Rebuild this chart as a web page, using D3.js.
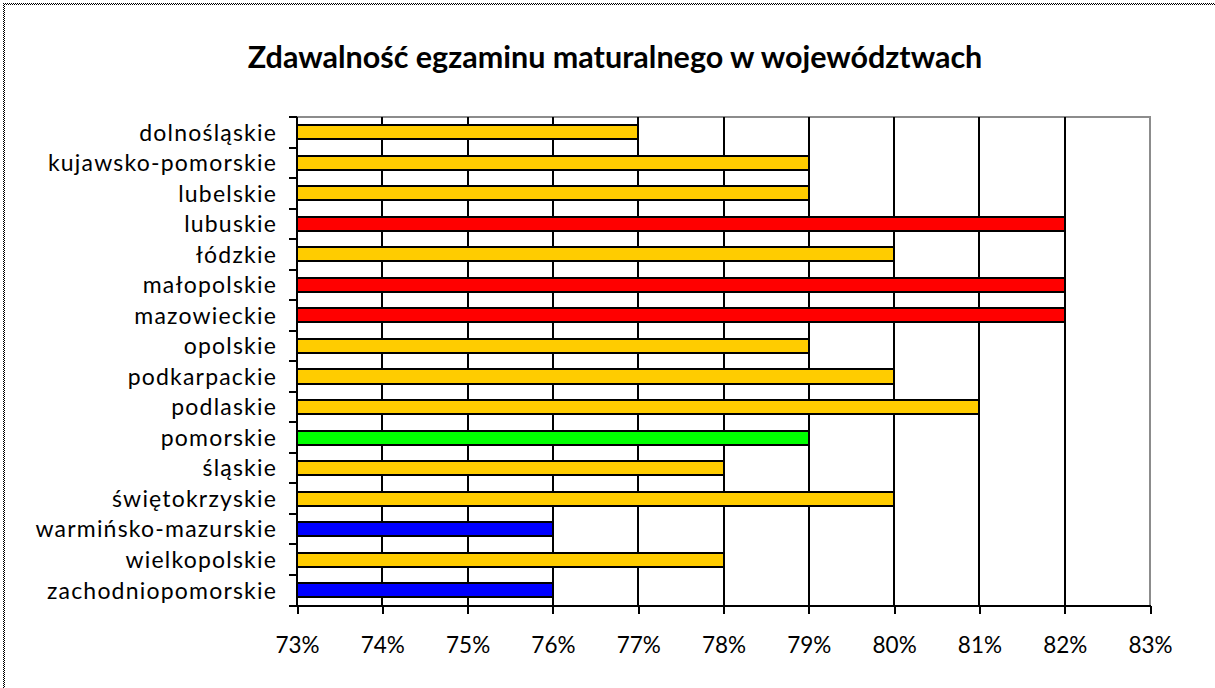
<!DOCTYPE html>
<html>
<head>
<meta charset="utf-8">
<script src="https://cdn.jsdelivr.net/npm/d3@7"></script>
<style>
  body { margin: 0; background: #fff; }
  svg { display: block; font-family: Lato, "Open Sans", sans-serif; }
</style>
</head>
<body>
<div id="chart"></div>
<script>
// data
var regions = ["dolnośląskie", "kujawsko-pomorskie", "lubelskie", "lubuskie", "łódzkie",
  "małopolskie", "mazowieckie", "opolskie", "podkarpackie", "podlaskie", "pomorskie",
  "śląskie", "świętokrzyskie", "warmińsko-mazurskie", "wielkopolskie", "zachodniopomorskie"];
var passRates = [0.77, 0.79, 0.79, 0.82, 0.80, 0.82, 0.82, 0.79, 0.80, 0.81, 0.79,
  0.78, 0.80, 0.76, 0.78, 0.76];
var barGroups = ["mid", "mid", "mid", "high", "mid", "high", "high", "mid", "mid", "mid", "best",
  "mid", "mid", "low", "mid", "low"];
var xTicks = [0.73, 0.74, 0.75, 0.76, 0.77, 0.78, 0.79, 0.80, 0.81, 0.82, 0.83];

var colorOf = { mid: "#ffcc00", high: "#ff0000", best: "#00ff00", low: "#0000ff" };

var svgWidth = 1215, svgHeight = 688;
var margin = { top: 117, right: 65, bottom: 82.5, left: 297 };
var width = svgWidth - margin.left - margin.right;
var height = svgHeight - margin.top - margin.bottom;

var svg = d3.select("#chart").append("svg")
  .attr("width", svgWidth)
  .attr("height", svgHeight)
  .attr("shape-rendering", "crispEdges");

// checkered frame (only top and left edges are visible)
var defs = svg.append("defs");
var pat = defs.append("pattern")
  .attr("id", "checker")
  .attr("patternUnits", "userSpaceOnUse")
  .attr("width", 2).attr("height", 2);
pat.append("rect").attr("width", 2).attr("height", 2).attr("fill", "#fff");
pat.append("rect").attr("width", 1).attr("height", 1).attr("fill", "#000");
pat.append("rect").attr("x", 1).attr("y", 1).attr("width", 1).attr("height", 1).attr("fill", "#000");

svg.append("rect").attr("x", 3).attr("y", 3).attr("width", svgWidth - 3).attr("height", 2)
  .attr("fill", "url(#checker)");
svg.append("rect").attr("x", 3).attr("y", 3).attr("width", 2).attr("height", svgHeight - 3)
  .attr("fill", "url(#checker)");

// title
svg.append("text")
  .attr("x", 615)
  .attr("y", 68)
  .attr("text-anchor", "middle")
  .attr("font-size", "30.5px")
  .attr("font-weight", "bold")
  .attr("fill", "#000")
  .attr("shape-rendering", "auto")
  .text("Zdawalność egzaminu maturalnego w województwach");

var chartGroup = svg.append("g")
  .attr("transform", `translate(${margin.left}, ${margin.top})`);

var xScale = d3.scaleLinear()
  .domain([0.73, 0.83])
  .range([0, width]);

var yScale = d3.scaleBand()
  .domain(regions)
  .range([0, height])
  .paddingInner(0.54)
  .paddingOuter(0.27);

// plot area frame (top/right gray)
chartGroup.append("path")
  .attr("d", `M0,0H${width}V${height}`)
  .attr("fill", "none")
  .attr("stroke", "#8c8c8c")
  .attr("stroke-width", 2);

// vertical gridlines
chartGroup.selectAll(".grid")
  .data(xTicks.slice(1, -1))
  .enter()
  .append("line")
  .attr("class", "grid")
  .attr("x1", d => xScale(d))
  .attr("x2", d => xScale(d))
  .attr("y1", 0)
  .attr("y2", height)
  .attr("stroke", "#000")
  .attr("stroke-width", 2);

// bars
chartGroup.selectAll(".bar")
  .data(regions)
  .enter()
  .append("rect")
  .attr("class", "bar")
  .attr("x", xScale(0.73))
  .attr("y", d => yScale(d))
  .attr("width", (d, i) => xScale(passRates[i]) - xScale(0.73))
  .attr("height", yScale.bandwidth())
  .attr("fill", (d, i) => colorOf[barGroups[i]])
  .attr("stroke", "#000")
  .attr("stroke-width", 2);

// x axis
var bottomAxis = d3.axisBottom(xScale)
  .tickValues(xTicks)
  .tickFormat(d3.format(".0%"))
  .tickSize(8)
  .tickSizeOuter(0);

var xAxis = chartGroup.append("g")
  .attr("transform", `translate(0, ${height})`)
  .call(bottomAxis);
xAxis.select(".domain").attr("stroke-width", 2);
xAxis.selectAll(".tick line").attr("stroke-width", 2);
xAxis.selectAll(".tick text")
  .attr("y", 47)
  .attr("dy", 0)
  .attr("font-size", "22.5px")
  .attr("font-family", "Lato, sans-serif")
  .attr("fill", "#000");

// y axis: boundary ticks between categories
var step = yScale.step();
var bounds = d3.range(regions.length + 1);
var yAxis = chartGroup.append("g");
yAxis.append("line")
  .attr("x1", 0).attr("x2", 0)
  .attr("y1", 0).attr("y2", height)
  .attr("stroke", "#000")
  .attr("stroke-width", 2);
yAxis.selectAll(".ytick")
  .data(bounds)
  .enter()
  .append("line")
  .attr("class", "ytick")
  .attr("x1", -8).attr("x2", 0)
  .attr("y1", d => d * step)
  .attr("y2", d => d * step)
  .attr("stroke", "#000")
  .attr("stroke-width", 2);

yAxis.selectAll(".ylabel")
  .data(regions)
  .enter()
  .append("text")
  .attr("class", "ylabel")
  .attr("x", -20)
  .attr("y", d => yScale(d) + yScale.bandwidth() / 2)
  .attr("dy", "0.36em")
  .attr("text-anchor", "end")
  .attr("font-size", "23px")
  .attr("letter-spacing", "1.2px")
  .attr("fill", "#000")
  .text(d => d);
</script>
</body>
</html>
